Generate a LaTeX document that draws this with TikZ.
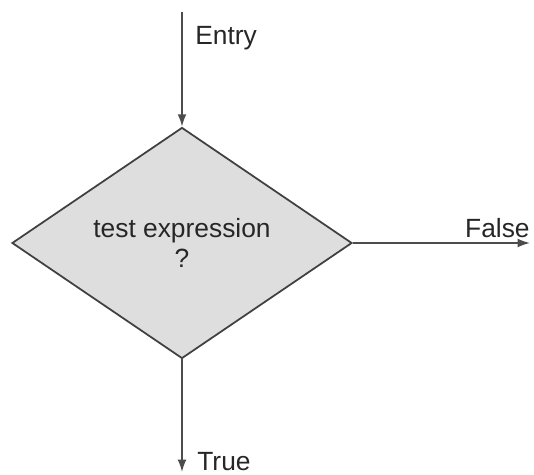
\documentclass[tikz,border=0pt]{standalone}
\usepackage{fontspec}
\setmainfont{Liberation Sans}
\usepackage{xcolor}
\usepackage{tikz}
\usetikzlibrary{
  shapes.geometric,
  arrows.meta,
  positioning
}
\tikzset{
  testblock/.style={
    draw=black!75, fill=black!13, line width=1pt,
    diamond, inner sep=0pt,
    minimum width=6.8cm, minimum height=4.62cm,
    align=center, font=\fontsize{15}{17}\selectfont, text=black!85
  },
  flowarrow/.style={
    -{Latex[length=7pt,width=5pt]}, line width=0.9pt, draw=black!70
  },
  flowlabel/.style={
    font=\fontsize{15}{17}\selectfont, text=black!85, inner sep=0pt
  }
}

\begin{document}
\begin{tikzpicture}
    \useasboundingbox (0,0) rectangle (10.68,9.5);
    \node[testblock] (test) at (3.64,4.64) {test expression\\?};
    \coordinate (in) at (3.64,9.26);
    \coordinate (outf) at (10.6,4.64);
    \coordinate (outt) at (3.64,0.06);
    \draw[flowarrow] (in) -- (test.north);
    \draw[flowarrow] (test.east) -- (outf);
    \draw[flowarrow] (test.south) -- (outt);
    \node[flowlabel, anchor=west] (entry) at (3.9,8.74) {Entry};
    \node[flowlabel, anchor=east] (false) at (10.6,4.94) {False};
    \node[flowlabel, anchor=west] (true) at (3.94,0.26) {True};
  \end{tikzpicture}
\end{document}
